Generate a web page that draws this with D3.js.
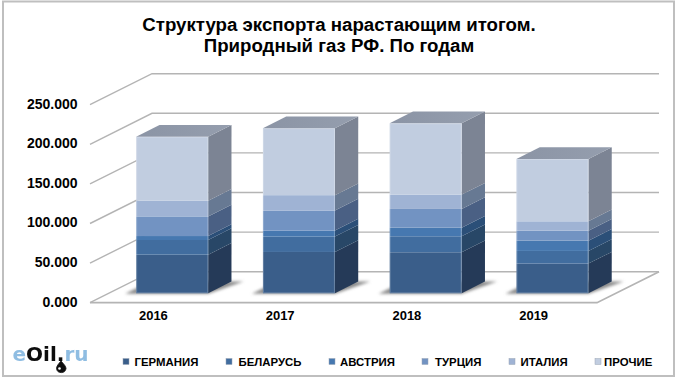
<!DOCTYPE html>
<html lang='en'>
	<head>
		<meta charset='utf-8'>
		<title>Структура экспорта</title>
		<script src="https://cdn.jsdelivr.net/npm/d3@7/dist/d3.min.js"></script>
		<style>
			html, body { margin: 0; padding: 0; background: #fff; }
			svg { display: block; }
			text { font-family: 'Liberation Sans', Arial, sans-serif; font-weight: bold; fill: #000; }
		</style>
	</head>
	<body>
		<svg id='chart' width='680' height='384'></svg>
		<script>
			// Values in thousands
			var years = ['2016', '2017', '2018', '2019'];
			var countries = ['ГЕРМАНИЯ', 'БЕЛАРУСЬ', 'АВСТРИЯ', 'ТУРЦИЯ', 'ИТАЛИЯ', 'ПРОЧИЕ'];
			var germany = [48.8, 52.2, 51.8, 37.5];
			var belarus = [18.5, 19.4, 20.2, 16.0];
			var austria = [5.0, 7.6, 10.9, 13.0];
			var turkey = [24.8, 25.3, 23.6, 12.6];
			var italy = [19.8, 19.4, 18.1, 11.8];
			var others = [80.8, 84.6, 90.1, 78.7];
			var yTicks = [0, 50, 100, 150, 200, 250];
			var titleLines = ['Структура экспорта нарастающим итогом.', 'Природный газ РФ. По годам'];

			var frontColors = ['#3a5e8a', '#416d9f', '#4678b0', '#7293c2', '#9fb3d4', '#c1cde0'];
			var sideColors = ['#253a58', '#284767', '#2b4f78', '#4a6084', '#677993', '#7c8494'];
			var legendMarkX = [123, 226, 329, 422, 509, 595];
			var legendTextX = [134.5, 238.5, 340, 435, 520.5, 604];

			var svg = d3.select('#chart');

			var floorDepth = {x: 62, y: -31};
			var barOffset = {x: 18.8, y: -9.4};
			var barDepth = {x: 23.3, y: -11.7};

			var scaleX = d3.scaleBand()
				.domain(years)
				.range([90, 597])
				.paddingInner(0.432)
				.paddingOuter(0.216);
			var scaleY = d3.scaleLinear()
				.domain([0, 250])
				.range([302.7, 104.7]);

			var rows = years.map(function(y, i){
				return {
					year: y,
					'ГЕРМАНИЯ': germany[i],
					'БЕЛАРУСЬ': belarus[i],
					'АВСТРИЯ': austria[i],
					'ТУРЦИЯ': turkey[i],
					'ИТАЛИЯ': italy[i],
					'ПРОЧИЕ': others[i]
				};
			});
			var stacked = d3.stack().keys(countries)(rows);

			function pts(list){
				return list.map(function(p){ return p[0] + ',' + p[1]; }).join(' ');
			}

			var defs = svg.append('defs');
			defs.append('filter').attr('id', 'blur').attr('x', '-20%').attr('y', '-50%').attr('width', '140%').attr('height', '200%')
				.append('feGaussianBlur').attr('stdDeviation', 1.6);
			defs.append('filter').attr('id', 'soft')
				.append('feGaussianBlur').attr('stdDeviation', 0.45);
			var topGrad = defs.append('linearGradient').attr('id', 'topGrad').attr('x1', 0).attr('x2', 1).attr('y1', 0).attr('y2', 0);
			topGrad.append('stop').attr('offset', '0%').attr('stop-color', '#8b94a5');
			topGrad.append('stop').attr('offset', '100%').attr('stop-color', '#959eae');

			// outer frame
			svg.append('rect')
				.attr('x', 3).attr('y', 1.5)
				.attr('width', 671).attr('height', 374.5)
				.attr('fill', '#fff')
				.attr('stroke', '#bfbfbf')
				.attr('stroke-width', 2);

			// title
			svg.append('g').selectAll('text')
				.data(titleLines)
				.enter().append('text')
				.attr('x', 339)
				.attr('y', function(d, i){ return 31 + i * 20.5; })
				.attr('text-anchor', 'middle')
				.attr('font-size', 18.67)
				.text(function(d){ return d; });

			// walls and floor
			var grid = svg.append('g').attr('fill', 'none').attr('stroke', '#b4b4b4').attr('stroke-width', 1.4);
			yTicks.forEach(function(t){
				var y0 = scaleY(t);
				var xEnd = scaleX.range()[0] + floorDepth.x;
				var yEnd = y0 + floorDepth.y;
				grid.append('polyline')
					.attr('points', pts([[scaleX.range()[0], y0], [xEnd, yEnd], [scaleX.range()[1] + floorDepth.x, yEnd]]));
			});
			grid.append('polyline')
				.attr('points', pts([
					[scaleX.range()[0], scaleY(0)],
					[scaleX.range()[1], scaleY(0)],
					[scaleX.range()[1] + floorDepth.x, scaleY(0) + floorDepth.y]
				]))
				.attr('stroke-width', 1.8);

			// bars
			var bars = svg.append('g');
			years.forEach(function(year, i){
				var x0 = scaleX(year) + barOffset.x;
				var x1 = x0 + scaleX.bandwidth();
				var base = scaleY(0) + barOffset.y;
				var yOf = function(v){ return scaleY(v) + barOffset.y; };
				var g = bars.append('g');

				g.append('polygon')
					.attr('points', pts([[x0 - 11, base + 0.5], [x1, base + 0.5], [x1 + barDepth.x + 12, base + barDepth.y], [x0 + 14, base + barDepth.y]]))
					.attr('fill', '#8a8a8a')
					.attr('filter', 'url(#blur)');

				stacked.forEach(function(layer, k){
					var lo = yOf(layer[i][0]);
					var hi = yOf(layer[i][1]);
					g.append('polygon')
						.attr('points', pts([[x1, lo], [x1 + barDepth.x, lo + barDepth.y], [x1 + barDepth.x, hi + barDepth.y], [x1, hi]]))
						.attr('fill', sideColors[k]);
					g.append('rect')
						.attr('x', x0)
						.attr('y', hi)
						.attr('width', x1 - x0)
						.attr('height', lo - hi)
						.attr('fill', frontColors[k]);
				});

				var top = yOf(stacked[stacked.length - 1][i][1]);
				g.append('polygon')
					.attr('points', pts([[x0, top], [x1, top], [x1 + barDepth.x, top + barDepth.y], [x0 + barDepth.x, top + barDepth.y]]))
					.attr('fill', 'url(#topGrad)');
				// light bevel round the front
				g.append('rect')
					.attr('x', x0 + 0.5)
					.attr('y', top + 0.5)
					.attr('width', x1 - x0 - 1)
					.attr('height', base - top - 1)
					.attr('fill', 'none')
					.attr('stroke', '#fff')
					.attr('stroke-opacity', 0.22);
			});

			// axes
			var axisY = d3.axisLeft(scaleY)
				.tickValues(yTicks)
				.tickSize(0)
				.tickPadding(0)
				.tickFormat(d3.format('.3f'));
			var gY = svg.append('g')
				.attr('transform', 'translate(77.5, -1)')
				.call(axisY);
			gY.select('.domain').remove();
			gY.selectAll('text').attr('font-size', 14).style('font-family', "'Liberation Sans'").style('font-weight', 'bold').attr('fill', '#000');

			var axisX = d3.axisBottom(scaleX)
				.tickSize(0)
				.tickPadding(0);
			var gX = svg.append('g')
				.attr('transform', 'translate(0, 311)')
				.call(axisX);
			gX.select('.domain').remove();
			gX.selectAll('text').attr('font-size', 13).style('font-family', "'Liberation Sans'").style('font-weight', 'bold').attr('fill', '#000');

			// legend
			var legend = svg.append('g');
			countries.forEach(function(c, i){
				legend.append('rect')
					.attr('x', legendMarkX[i])
					.attr('y', 358.5)
					.attr('width', 6)
					.attr('height', 6)
					.attr('fill', frontColors[i])
					.attr('stroke', '#9aa5b5')
					.attr('stroke-width', 0.5);
				legend.append('text')
					.attr('x', legendTextX[i])
					.attr('y', 366)
					.attr('font-size', 11.4)
					.text(c);
			});

			// site logo
			var logo = svg.append('g').attr('filter', 'url(#soft)');
			var logoText = logo.append('text')
				.attr('x', 12.5)
				.attr('y', 360.5)
				.attr('font-size', 20)
				.style('font-family', "'DejaVu Sans'");
			logoText.append('tspan').style('fill', '#8fbde2').text('e');
			logoText.append('tspan').style('fill', '#111').text('Oil');
			logoText.append('tspan').style('fill', '#111').text('.');
			logoText.append('tspan').style('fill', '#8fbde2').text('ru');
			logo.append('path')
				.attr('d', 'M61 358 L 61 361 C 58.5 364 56.5 366 56.5 368.5 A 4.8 4.8 0 0 0 66 368.5 C 66 366 63.5 364 61 361 Z')
				.attr('fill', '#111')
				.attr('stroke', '#111')
				.attr('stroke-width', 0.8);
			logo.append('circle').attr('cx', 59.5).attr('cy', 368.5).attr('r', 1.3).attr('fill', '#fff');
		</script>
	</body>
</html>
